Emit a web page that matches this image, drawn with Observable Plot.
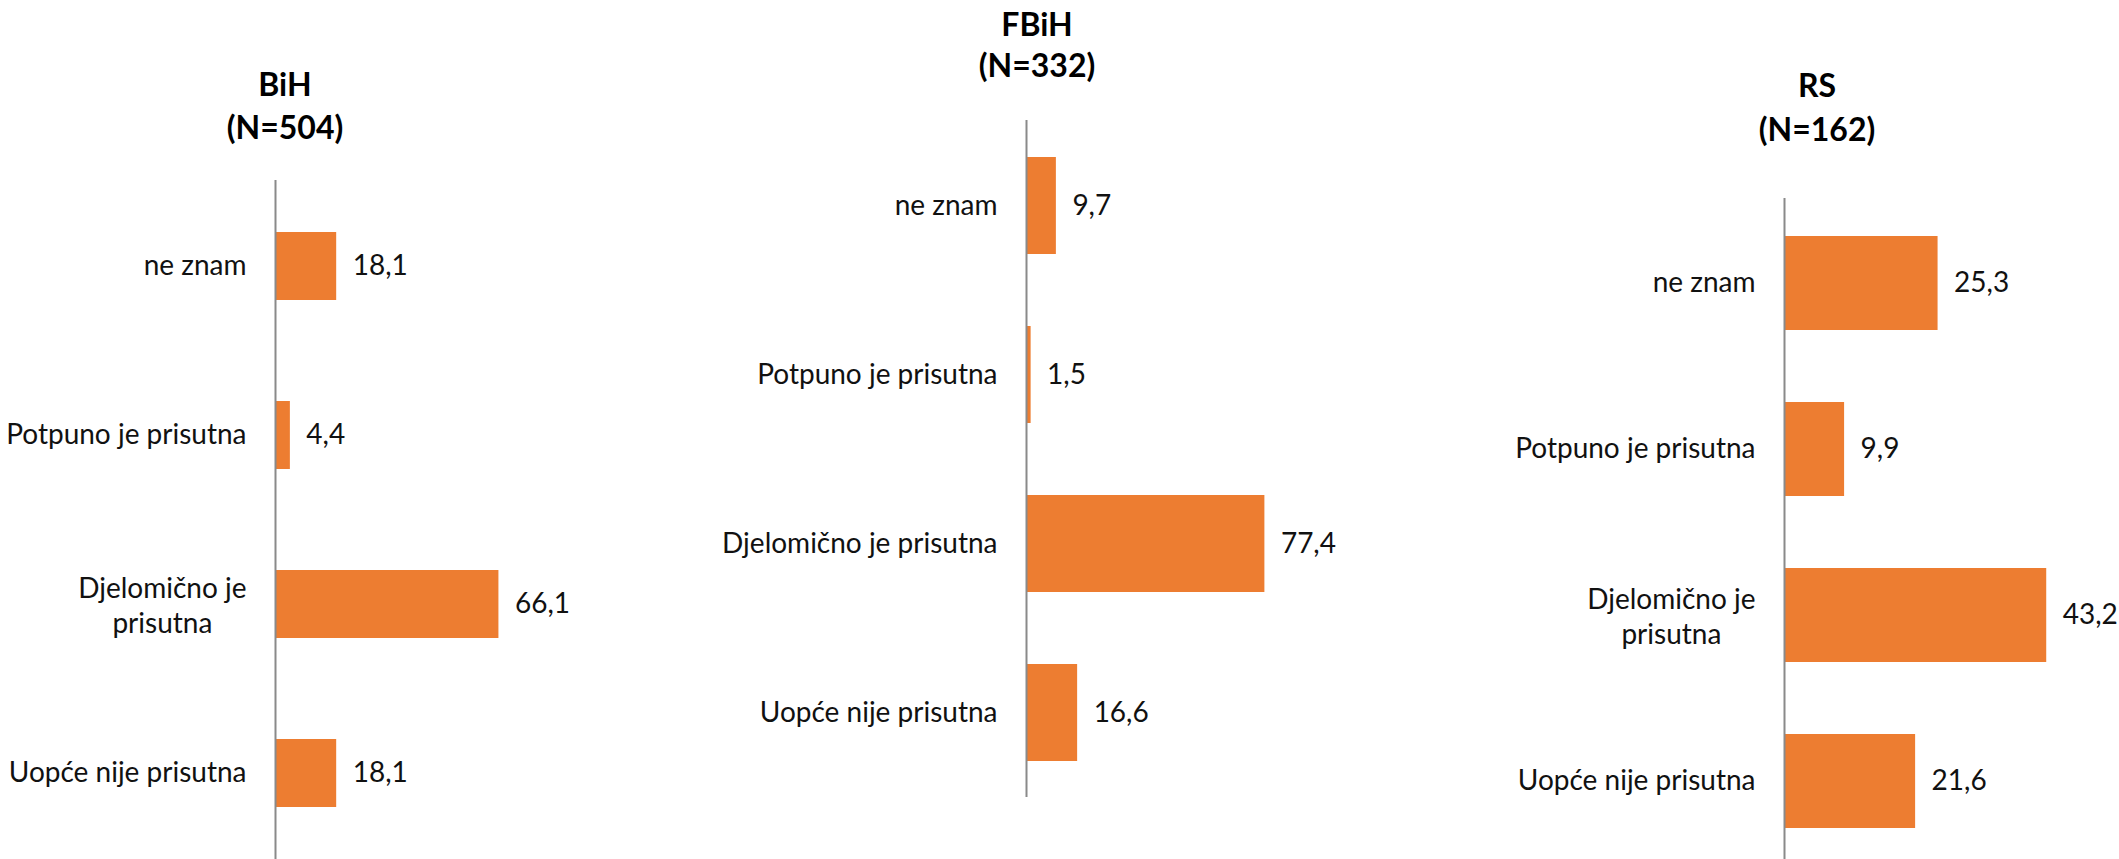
<!DOCTYPE html>
<html>
<head>
<meta charset="utf-8">
<script src="https://cdn.jsdelivr.net/npm/d3@7"></script>
<script src="https://cdn.jsdelivr.net/npm/@observablehq/plot@0.6"></script>
<style>
  html, body { margin: 0; padding: 0; background: #fff; }
  #wrap { position: relative; width: 2119px; height: 859px; overflow: hidden; background: #fff; }
  .panel { position: absolute; top: 0; }
  .title { position: absolute; width: 300px; text-align: center; font-family: Lato, "Open Sans", sans-serif;
           font-weight: bold; font-size: 32px; color: #000; }
</style>
</head>
<body>
<div id="wrap"></div>
<script>
// ---- data ----
const categories = ["ne znam", "Potpuno je prisutna", "Djelomično je prisutna", "Uopće nije prisutna"];
const bihValues  = [18.1, 4.4, 66.1, 18.1];
const fbihValues = [9.7, 1.5, 77.4, 16.6];
const rsValues   = [25.3, 9.9, 43.2, 21.6];
const panelNames = ["BiH", "FBiH", "RS"];
const panelN     = [504, 332, 162];
const wrappedCategory = "Djelomično je prisutna";
const wrappedText = "Djelomično je\nprisutna";

// ---- layout (styles only) ----
const layouts = [
  {left: 0,    width: 700, height: 859, ml: 275, xw: 338,   xmax: 100, mt: 180, mb: 0,  pi: 0.6,   po: 0.3,  wrap: true,
   tx: 285, ty: 62, lh: 43},
  {left: 700,  width: 700, height: 859, ml: 326, xw: 308,   xmax: 100, mt: 120, mb: 62, pi: 0.427, po: 0.213, wrap: false,
   tx: 1037, ty: 3, lh: 41},
  {left: 1400, width: 719, height: 866, ml: 384, xw: 303.5, xmax: 50,  mt: 198, mb: 0,  pi: 0.436, po: 0.22, wrap: true,
   tx: 1817, ty: 63, lh: 43.5}
];
const seriesValues = [bihValues, fbihValues, rsValues];

const FONT = 28;
const fmt = v => v.toFixed(1).replace(".", ",");
const canvas = document.createElement("canvas");
const ctx = canvas.getContext("2d");
ctx.font = `${FONT}px Lato`;
const firstLineWidth = ctx.measureText(wrappedText.split("\n")[0]).width;

const wrap = document.getElementById("wrap");

layouts.forEach((L, p) => {
  const data = categories.map((c, i) => ({cat: c, value: seriesValues[p][i]}));
  const isWrapped = d => L.wrap && d.cat === wrappedCategory;
  const single = data.filter(d => !isWrapped(d));
  const wrapped = data.filter(isWrapped);

  const chart = Plot.plot({
    width: L.width,
    height: L.height,
    marginLeft: L.ml,
    marginRight: L.width - L.ml - L.xw,
    marginTop: L.mt,
    marginBottom: L.mb,
    x: {domain: [0, L.xmax], axis: null},
    y: {domain: categories, paddingInner: L.pi, paddingOuter: L.po, axis: null},
    style: {fontFamily: "Lato, 'Open Sans', sans-serif", fontSize: FONT + "px", color: "#111", background: "transparent", overflow: "visible"},
    marks: [
      Plot.barX(data, {x: "value", y: "cat", fill: "#ED7D31"}),
      Plot.ruleX([0], {stroke: "#8a8a8a", strokeWidth: 2}),
      Plot.text(data, {x: "value", y: "cat", text: d => fmt(d.value), textAnchor: "start", dx: 16, fontSize: FONT, fill: "#111"}),
      Plot.text(single, {y: "cat", frameAnchor: "left", text: "cat", textAnchor: "end", dx: -29, fontSize: FONT, fill: "#111"}),
      Plot.text(wrapped, {y: "cat", frameAnchor: "left", text: () => wrappedText, textAnchor: "middle",
                          dx: -29 - firstLineWidth / 2, lineHeight: 1.22, fontSize: FONT, fill: "#111"})
    ]
  });
  chart.classList.add("panel");
  chart.style.left = L.left + "px";
  wrap.appendChild(chart);

  const t = document.createElement("div");
  t.className = "title";
  t.style.left = (L.tx - 150) + "px";
  t.style.top = L.ty + "px";
  t.style.lineHeight = L.lh + "px";
  t.innerHTML = `${panelNames[p]}<br>(N=${panelN[p]})`;
  wrap.appendChild(t);
});
</script>
</body>
</html>
